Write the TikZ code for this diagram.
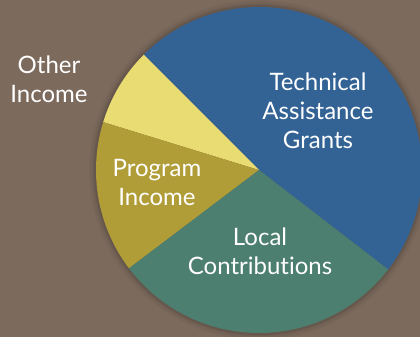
\documentclass[tikz,border=0pt]{standalone}
\usepackage{fontspec}
\setmainfont{Lato}[Ligatures=NoCommon]
\definecolor{bg}{HTML}{7C6A5D}
\definecolor{tblue}{HTML}{336395}
\definecolor{tyellow}{HTML}{E8DC72}
\definecolor{tolive}{HTML}{B09D38}
\definecolor{tgreen}{HTML}{4C7F6F}
\tikzset{
  lbl/.style={text=white, font=\fontsize{24}{29}\selectfont, align=center, inner sep=0pt}
}
\begin{document}
\begin{tikzpicture}[x=1pt,y=-1pt]
\fill[bg] (0,0) rectangle (420,337);
\useasboundingbox (0,0) rectangle (420,337);
\coordinate (c) at (259,170);
\foreach \r/\o in {170/0.03,168/0.04,166/0.05,165/0.06}{
  \fill[black,opacity=\o] (c) circle (\r);
}
\fill[tblue]   (c) -- ++(37.6:163)   arc[start angle=37.6, end angle=-135, radius=163] -- cycle;
\fill[tyellow] (c) -- ++(-135:163)   arc[start angle=-135, end angle=-162.9, radius=163] -- cycle;
\fill[tolive]  (c) -- ++(-162.9:163) arc[start angle=-162.9, end angle=-217.1, radius=163] -- cycle;
\fill[tgreen]  (c) -- ++(-217.1:163) arc[start angle=-217.1, end angle=-322.4, radius=163] -- cycle;
\node[lbl] (tag) at (318,111) {Technical\\Assistance\\Grants};
\node[lbl] (oth) at (49,79) {Other\\Income};
\node[lbl] (prog) at (157,182) {Program\\Income};
\node[lbl] (loc) at (260,251) {Local\\Contribut\kern0pt ions};
\end{tikzpicture}
\end{document}
